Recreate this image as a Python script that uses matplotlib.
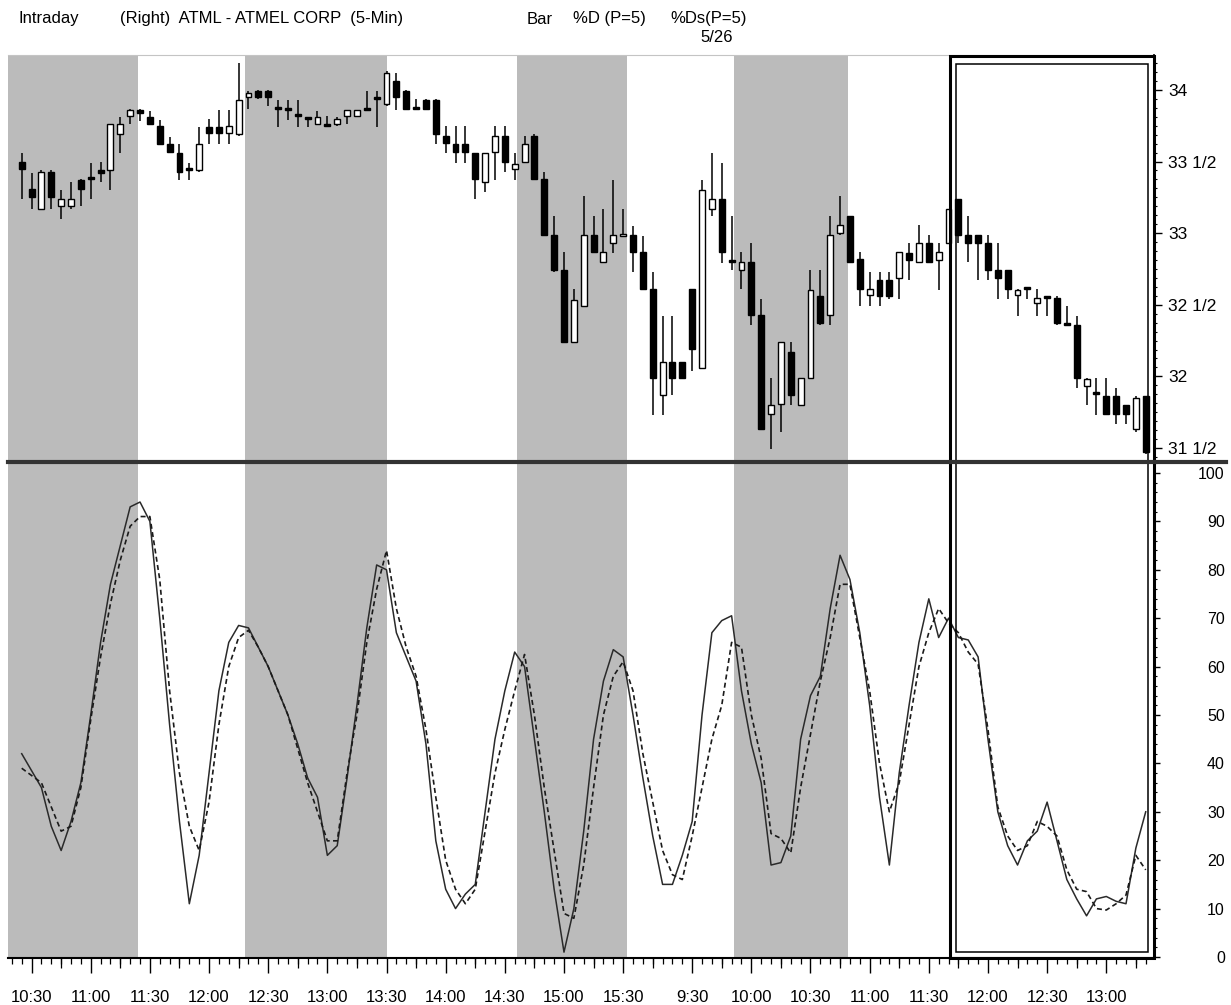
import numpy as np
import matplotlib.pyplot as plt
from matplotlib.lines import Line2D
from matplotlib.patches import Rectangle
from matplotlib.ticker import MultipleLocator
import matplotlib.transforms as mtransforms

plt.rcParams['font.family'] = ['Liberation Sans', 'DejaVu Sans']

# 5-min bars, ATML, 10:25 (day 1) .. 13:20 (day 2)
opens = [33.50, 33.31, 33.17, 33.43, 33.19, 33.19, 33.37, 33.38, 33.44, 33.44,
         33.69, 33.82, 33.86, 33.81, 33.75, 33.62, 33.56, 33.45, 33.44, 33.74,
         33.74, 33.70, 33.69, 33.95, 33.99, 33.99, 33.88, 33.87, 33.83, 33.80,
         33.76, 33.75, 33.76, 33.82, 33.82, 33.86, 33.95, 33.90, 34.06, 33.99,
         33.87, 33.93, 33.93, 33.68, 33.62, 33.62, 33.56, 33.36, 33.57, 33.68,
         33.45, 33.50, 33.68, 33.38, 32.99, 32.74, 32.24, 32.49, 32.99, 32.80,
         32.93, 32.98, 32.99, 32.87, 32.61, 31.87, 32.10, 32.10, 32.61, 32.06,
         33.17, 33.24, 32.80, 32.74, 32.80, 32.43, 31.74, 31.81, 32.17, 31.80,
         31.99, 32.56, 32.43, 33.00, 33.12, 32.82, 32.57, 32.67, 32.67, 32.69,
         32.86, 32.80, 32.93, 32.81, 32.93, 33.24, 32.99, 32.99, 32.93, 32.74,
         32.74, 32.57, 32.61, 32.51, 32.55, 32.55, 32.36, 32.36, 31.93, 31.89,
         31.86, 31.86, 31.80, 31.63, 31.86]
highs = [33.56, 33.42, 33.44, 33.44, 33.30, 33.36, 33.38, 33.49, 33.50, 33.76,
         33.81, 33.87, 33.87, 33.85, 33.79, 33.67, 33.62, 33.49, 33.74, 33.80,
         33.86, 33.86, 34.19, 33.99, 34.00, 34.00, 33.93, 33.93, 33.93, 33.81,
         33.85, 33.82, 33.81, 33.86, 33.86, 33.99, 33.99, 34.13, 34.12, 34.00,
         33.94, 33.94, 33.94, 33.75, 33.75, 33.75, 33.56, 33.56, 33.75, 33.75,
         33.56, 33.68, 33.69, 33.43, 33.12, 32.87, 32.61, 33.26, 33.12, 33.17,
         33.37, 33.17, 33.05, 32.98, 32.73, 32.42, 32.42, 32.10, 32.61, 33.37,
         33.56, 33.49, 33.12, 32.87, 32.93, 32.54, 31.99, 32.24, 32.24, 31.99,
         32.74, 32.74, 33.12, 33.26, 33.12, 32.87, 32.73, 32.73, 32.73, 32.87,
         32.93, 33.06, 32.99, 32.93, 33.17, 33.24, 33.12, 32.99, 32.99, 32.93,
         32.74, 32.61, 32.61, 32.61, 32.55, 32.56, 32.49, 32.42, 31.99, 31.99,
         31.99, 31.92, 31.80, 31.86, 31.86]
lows = [33.24, 33.17, 33.17, 33.17, 33.10, 33.17, 33.19, 33.24, 33.36, 33.30,
        33.56, 33.76, 33.78, 33.76, 33.62, 33.56, 33.37, 33.37, 33.43, 33.62,
        33.62, 33.62, 33.68, 33.87, 33.94, 33.89, 33.74, 33.79, 33.74, 33.74,
        33.76, 33.74, 33.75, 33.76, 33.81, 33.85, 33.74, 33.89, 33.86, 33.86,
        33.86, 33.86, 33.62, 33.56, 33.49, 33.49, 33.24, 33.29, 33.37, 33.43,
        33.37, 33.49, 33.37, 32.99, 32.73, 32.24, 32.23, 32.49, 32.86, 32.79,
        32.86, 32.98, 32.73, 32.61, 31.73, 31.73, 31.87, 31.99, 32.04, 32.05,
        33.12, 32.79, 32.74, 32.61, 32.36, 31.63, 31.49, 31.61, 31.80, 31.80,
        31.99, 32.36, 32.36, 32.99, 32.79, 32.49, 32.49, 32.49, 32.54, 32.54,
        32.67, 32.80, 32.80, 32.60, 32.93, 32.93, 32.80, 32.67, 32.67, 32.54,
        32.54, 32.42, 32.54, 32.42, 32.42, 32.36, 32.36, 31.92, 31.80, 31.73,
        31.73, 31.67, 31.67, 31.61, 31.46]
closes = [33.45, 33.25, 33.43, 33.25, 33.24, 33.24, 33.31, 33.38, 33.42, 33.76,
          33.76, 33.86, 33.84, 33.76, 33.62, 33.57, 33.43, 33.44, 33.62, 33.70,
          33.70, 33.75, 33.93, 33.98, 33.95, 33.95, 33.87, 33.86, 33.82, 33.80,
          33.81, 33.75, 33.80, 33.86, 33.86, 33.86, 33.94, 34.12, 33.95, 33.87,
          33.87, 33.87, 33.69, 33.63, 33.57, 33.57, 33.38, 33.56, 33.68, 33.50,
          33.48, 33.62, 33.38, 32.99, 32.74, 32.24, 32.53, 32.99, 32.87, 32.87,
          32.99, 32.99, 32.87, 32.61, 31.99, 32.10, 31.99, 31.99, 32.19, 33.30,
          33.24, 32.87, 32.80, 32.80, 32.43, 31.63, 31.80, 32.24, 31.87, 31.99,
          32.60, 32.37, 32.99, 33.06, 32.80, 32.61, 32.61, 32.56, 32.56, 32.87,
          32.81, 32.93, 32.80, 32.87, 33.17, 32.99, 32.93, 32.93, 32.74, 32.69,
          32.61, 32.60, 32.61, 32.55, 32.55, 32.37, 32.36, 31.99, 31.98, 31.88,
          31.74, 31.74, 31.74, 31.85, 31.47]

# %D (P=5) solid, %Ds (P=5) dashed
pct_d = [42, 38.5, 35, 27, 22, 28, 36, 50, 65, 77,
         85, 93, 94, 90, 70, 48, 28, 11, 21, 38,
         55, 65, 68.5, 68, 64, 60, 55, 50, 44, 37,
         33, 21, 23, 37, 52, 68, 81, 80, 67, 62,
         57, 44, 24, 14, 10, 13, 15, 30, 45, 55,
         63, 60, 45, 30, 14, 1, 10, 26, 45, 57,
         63.5, 62, 50, 37, 25, 15, 15, 21, 28, 50,
         67, 69.5, 70.5, 55, 44, 36, 19, 19.5, 25, 45,
         54, 58, 72, 83, 78, 67, 52, 33, 19, 38,
         52, 65, 74, 66, 70, 66, 65.5, 62, 45, 30,
         23, 19, 24, 26, 32, 24, 16, 12, 8.5, 12,
         12.5, 11.5, 11, 22.5, 30]
pct_ds = [39, 37.5, 36, 31, 26, 27, 35, 49, 62, 73,
          82, 89, 91, 91, 78, 55, 38, 27, 22, 32,
          48, 60, 66, 67.5, 64, 60, 55, 50, 43, 36,
          30, 24, 24, 38, 50, 65, 76, 84, 72, 64,
          58, 47, 33, 20, 14, 11, 14, 26, 38, 47,
          55, 62.5, 50, 35, 22, 9, 8, 19, 35, 50,
          58, 61, 55, 42, 32, 22, 17, 16, 25, 35,
          45, 52, 65, 64, 50, 41, 25.5, 24.5, 21.5, 35,
          46, 57, 66, 77, 77, 66, 55, 40, 30, 36,
          48, 60, 67, 72, 69, 67, 63, 60.5, 47, 31,
          25, 22, 23, 28, 27, 25, 18, 14, 13.5, 10,
          9.7, 11, 12.8, 21, 18]

tick_bars = [1, 7, 13, 19, 25, 31, 37, 43, 49, 55, 61,
             68, 74, 80, 86, 92, 98, 104, 110]
tick_labels = ['10:30', '11:00', '11:30', '12:00', '12:30', '13:00', '13:30',
               '14:00', '14:30', '15:00', '15:30',
               '9:30', '10:00', '10:30', '11:00', '11:30', '12:00', '12:30', '13:00']
quarter_bars = [4, 10, 16, 22, 28, 34, 40, 46, 52, 58, 64,
                71, 77, 83, 89, 95, 101, 107, 113]
shade_start = [-1.4, 22.6, 50.2, 72.2]
shade_end = [11.8, 37.0, 61.4, 83.8]
price_ticks = [31.5, 32, 32.5, 33, 33.5, 34]
price_labels = ['31 1/2', '32', '32 1/2', '33', '33 1/2', '34']
stoch_ticks = [0, 10, 20, 30, 40, 50, 60, 70, 80, 90, 100]

W, H = 1231, 1005
fig = plt.figure(figsize=(W / 100, H / 100), dpi=100)


def fx(px):
    return px / W


def fy(py):
    return 1 - py / H


ax1 = fig.add_axes([fx(8), fy(462), fx(1154) - fx(8), fy(55) - fy(462)])
ax2 = fig.add_axes([fx(8), fy(958), fx(1154) - fx(8), fy(462) - fy(958)], sharex=ax1)

shade = '#bbbbbb'
for ax in (ax1, ax2):
    for s, e in zip(shade_start, shade_end):
        ax.axvspan(s, e, color=shade, lw=0, zorder=0)

# candles
x = np.arange(len(opens))
o = np.array(opens)
c = np.array(closes)
bottoms = np.minimum(o, c)
heights = np.maximum(np.abs(c - o), 0.012)
body_colors = ['white' if cc > oo else 'black' for oo, cc in zip(o, c)]
ax1.vlines(x, lows, highs, color='black', lw=1.1, zorder=2)
ax1.bar(x, heights, bottom=bottoms, width=0.6, color=body_colors,
        edgecolor='black', linewidth=1.0, zorder=3)

ax1.set_xlim(-1.39, 114.84)
ax1.set_ylim(31.402, 34.244)
ax1.yaxis.tick_right()
ax1.set_yticks(price_ticks, price_labels)
ax1.yaxis.set_minor_locator(MultipleLocator(1 / 16))
ax1.tick_params(axis='y', which='major', length=6, width=1, pad=4, labelsize=12.5)
ax1.tick_params(axis='y', which='minor', length=2.5, width=0.8)
ax1.tick_params(axis='x', which='both', bottom=False, labelbottom=False)
ax1.spines['left'].set_visible(False)
ax1.spines['bottom'].set_visible(False)
ax1.spines['top'].set_color('#c4c4c4')
ax1.spines['right'].set_linewidth(1.3)

# stochastic
ax2.plot(x, pct_d, color='#2a2a2a', lw=1.1, zorder=3)
ax2.plot(x, pct_ds, color='#1a1a1a', lw=1.2, ls=(0, (3, 2)), zorder=3)
ax2.set_ylim(-0.21, 102.27)
ax2.yaxis.tick_right()
ax2.set_yticks(stoch_ticks)
ax2.yaxis.set_minor_locator(MultipleLocator(2))
ax2.tick_params(axis='y', which='major', length=4, width=1, pad=47, labelsize=11.5)
ax2.tick_params(axis='y', which='minor', length=2, width=0.8)
for lbl in ax2.get_yticklabels():
    lbl.set_horizontalalignment('right')
ax2.set_xticks(tick_bars, tick_labels)
ax2.xaxis.set_minor_locator(MultipleLocator(1))
ax2.tick_params(axis='x', which='major', length=11, width=1, pad=12, labelsize=12)
ax2.tick_params(axis='x', which='minor', length=4, width=0.9)
ax2.spines['left'].set_visible(False)
ax2.spines['top'].set_visible(False)
ax2.spines['right'].set_linewidth(1.3)
ax2.spines['bottom'].set_linewidth(1.5)

sec = ax2.secondary_xaxis('bottom')
sec.set_xticks(quarter_bars)
sec.tick_params(axis='x', length=7, width=0.9, labelbottom=False)
sec.spines['bottom'].set_visible(False)

# panel divider
fig.add_artist(Line2D([fx(8), fx(1226)], [fy(462.5), fy(462.5)],
                      transform=fig.transFigure, color='#333333', lw=3))

# highlight box
trans = mtransforms.blended_transform_factory(ax1.transData, fig.transFigure)
fig.add_artist(Rectangle((94.1, fy(958)), 114.84 - 94.1, fy(56) - fy(958),
                         fill=False, ec='black', lw=2.2, transform=trans))
fig.add_artist(Rectangle((94.8, fy(952)), 114.2 - 94.8, fy(64) - fy(952),
                         fill=False, ec='black', lw=1.1, transform=trans))

# header
hdr = dict(fontsize=12, va='center', ha='left')
fig.text(fx(18), fy(19), 'Intraday', **hdr)
fig.text(fx(120), fy(19), '(Right)  ATML - ATMEL CORP  (5-Min)', **hdr)
fig.text(fx(527), fy(19), 'Bar', **hdr)
fig.text(fx(573), fy(19), '%D (P=5)', **hdr)
fig.text(fx(670), fy(19), '%Ds(P=5)', **hdr)
fig.text(fx(700), fy(37), '5/26', **hdr)

fig.savefig('out.png', dpi=100)
